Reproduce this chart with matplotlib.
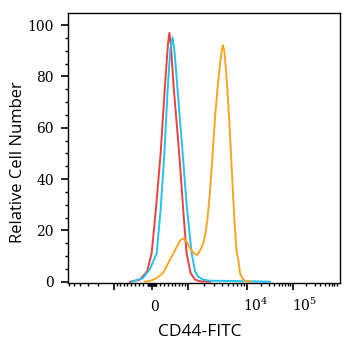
import numpy as np
import matplotlib.pyplot as plt
from matplotlib import transforms

plt.rcParams['mathtext.fontset'] = 'dejavuserif'

# histogram curves: display channel (0-1024) vs relative cell number
red_ch = [233, 270, 297, 314, 330, 348, 364, 376, 381, 387, 397, 418, 436, 446, 461, 478, 496, 534]
red_y = [0, 0.8, 4, 11, 28, 50, 76, 93, 97, 92, 76, 50, 24, 11, 3.4, 0.8, 0.2, 0]

blue_ch = [240, 282, 308, 333, 348, 362, 375, 385, 393, 400, 411, 431, 446, 452, 465, 478, 489,
           508, 534, 609, 722, 760]
blue_y = [0, 1.5, 5, 11, 28, 50, 76, 91, 95.2, 90, 76, 50, 30, 24, 11, 4, 2,
          0.8, 0.4, 0.3, 0.1, 0]

orange_ch = [289, 314, 334, 357, 383, 409, 421, 433, 447, 459, 474, 486, 496, 509, 517, 524, 534,
             544, 553, 563, 572, 579, 583, 589, 599, 606, 613, 626, 635, 641, 647, 655, 666, 685]
orange_y = [0, 0.5, 1.5, 3.4, 8.5, 13.6, 16, 16.9, 15.5, 13, 11, 10.4, 12, 15, 19, 24, 35,
            50, 64, 76, 85, 90.5, 92.2, 89, 76, 64, 50, 24, 11, 8.5, 3.4, 1.5, 0.3, 0]

# biexponential display: FITC value -> display channel
anchor_val = np.array([-1e4, -1e3, 0, 1e3, 1e4, 1e5, 1e6])
anchor_ch = np.array([-50, 172, 315, 451, 674, 845, 1020])


def to_channel(v):
    t = np.arcsinh(np.asarray(v, dtype=float) / 1000.0)
    return np.interp(t, np.arcsinh(anchor_val / 1000.0), anchor_ch)


major_val = [-1e3, 0, 1e3, 1e4, 1e5]
major_lbl = ['', '0', '', r'$\mathregular{10^4}$', r'$\mathregular{10^5}$']
minor_val = []
for d in range(1, 6):
    for k in range(1, 10):
        minor_val += [k * 10 ** d, -k * 10 ** d]
minor_val = [v for v in minor_val if v not in major_val]

fig = plt.figure(figsize=(3.52, 3.5), dpi=100)
ax = fig.add_axes([0.194, 0.1914, 0.7719, 0.7706])

ax.plot(red_ch, red_y, color='#F0403C', lw=1.4)
ax.plot(blue_ch, blue_y, color='#22C3F0', lw=1.4)
ax.plot(orange_ch, orange_y, color='#F6A623', lw=1.4)

ax.set_xlim(0, 1024)
ax.set_ylim(-0.5, 104.6)

ax.set_xticks(to_channel(major_val))
ax.set_xticklabels(major_lbl)
mc = to_channel(minor_val)
ax.set_xticks(mc[(mc > 2) & (mc < 1022)], minor=True)
ax.set_yticks(np.arange(0, 101, 20))
ax.set_yticks(np.arange(0, 101, 5), minor=True)

ax.tick_params(axis='both', which='major', length=4.8, width=1.2, color='black',
               labelsize=10, labelfontfamily='DejaVu Serif')
ax.tick_params(axis='both', which='minor', length=2.4, width=1.0, color='black')
ax.tick_params(axis='y', pad=5.5)
ax.tick_params(axis='x', pad=15.7)
shifts = [0, 3, 0, -4, -1]
for lbl, s in zip(ax.get_xticklabels(), shifts):
    lbl.set_va('baseline')
    if lbl.get_text().startswith('$'):
        lbl.set_ha('left')
    lbl.set_transform(lbl.get_transform() +
                      transforms.ScaledTranslation(s / 100, 0, fig.dpi_scale_trans))

for sp in ax.spines.values():
    sp.set_linewidth(1.0)

ax.set_ylabel('Relative Cell Number', fontsize=12, family='Open Sans', va='center')
ax.yaxis.set_label_coords(-0.184, 0.45)
ax.set_xlabel('CD44-FITC', fontsize=12.5, family='Open Sans', va='center')
ax.xaxis.set_label_coords(0.485, -0.18)

fig.savefig('out.png', dpi=100)
